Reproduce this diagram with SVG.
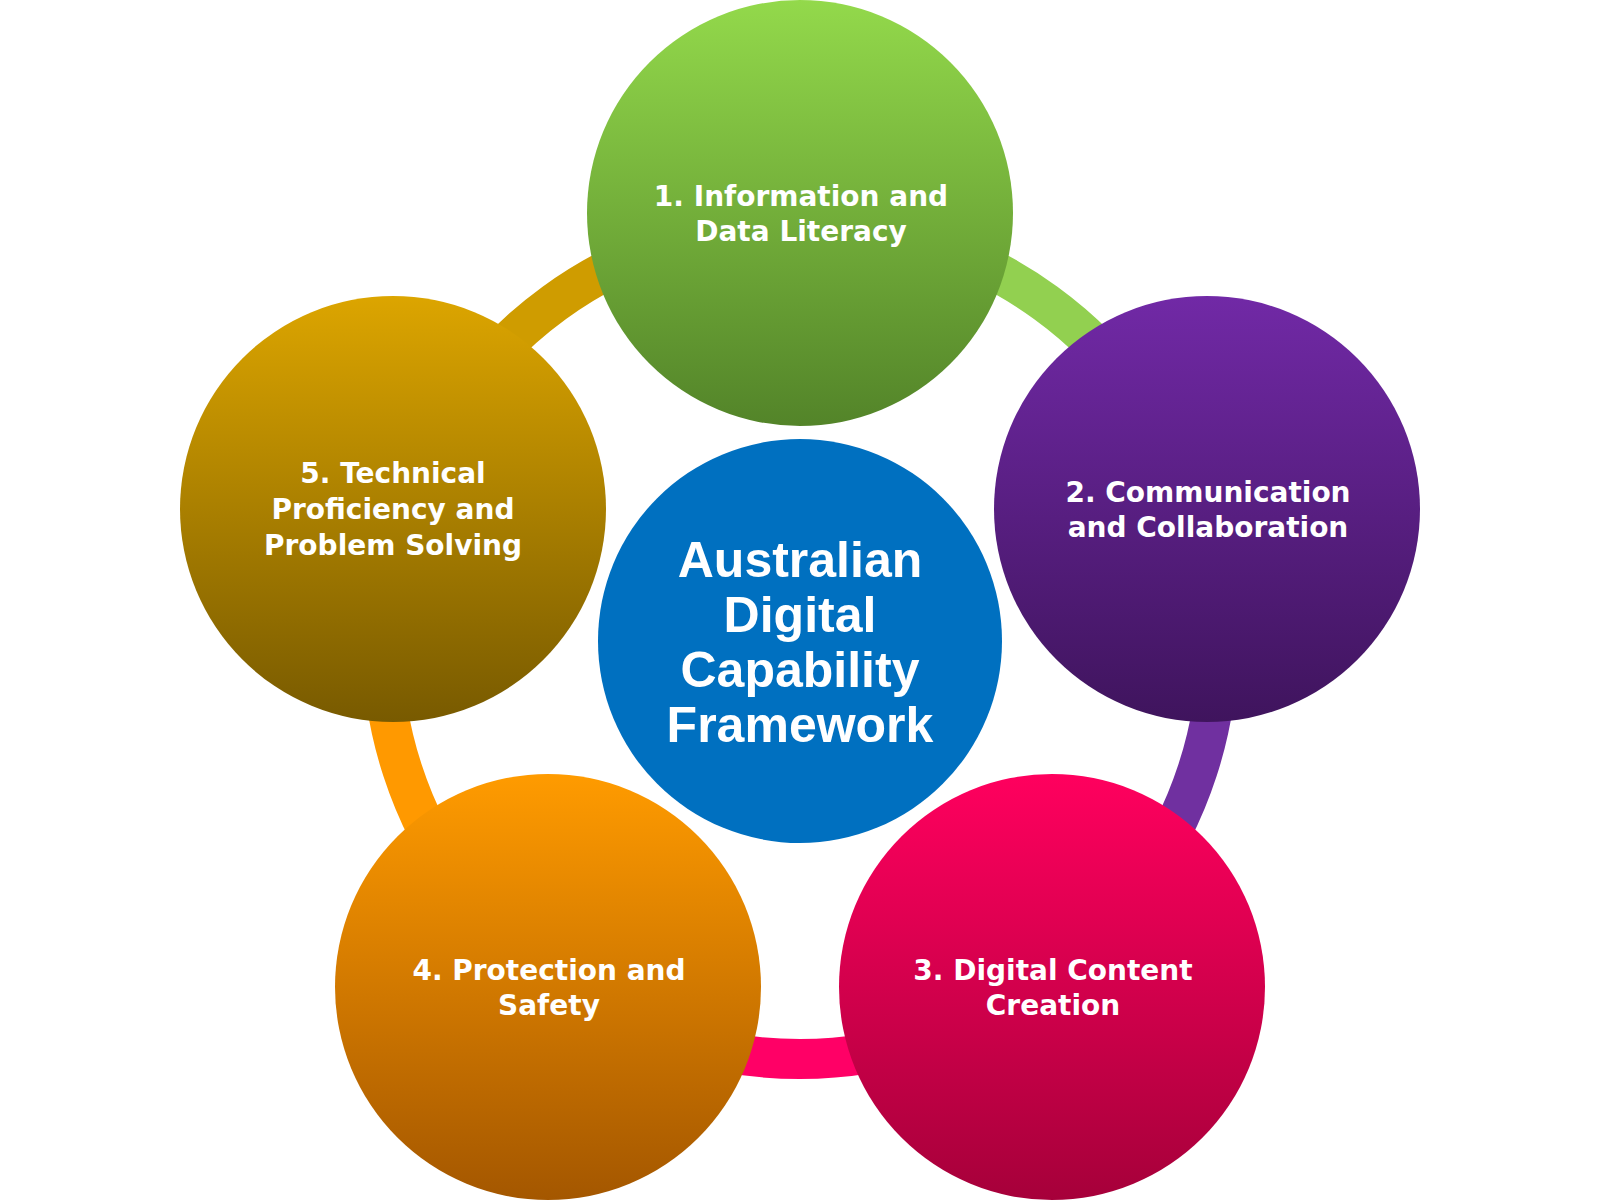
<svg xmlns="http://www.w3.org/2000/svg" width="1600" height="1201" viewBox="0 0 1600 1201">
  <defs>
    <linearGradient id="g1" x1="0" y1="0" x2="0" y2="1">
      <stop offset="0" stop-color="#93d94b"/>
      <stop offset="1" stop-color="#538429"/>
    </linearGradient>
    <linearGradient id="g2" x1="0" y1="0" x2="0" y2="1">
      <stop offset="0" stop-color="#7129a6"/>
      <stop offset="1" stop-color="#3f145d"/>
    </linearGradient>
    <linearGradient id="g3" x1="0" y1="0" x2="0" y2="1">
      <stop offset="0" stop-color="#ff005e"/>
      <stop offset="1" stop-color="#a6003a"/>
    </linearGradient>
    <linearGradient id="g4" x1="0" y1="0" x2="0" y2="1">
      <stop offset="0" stop-color="#ff9b00"/>
      <stop offset="1" stop-color="#a45700"/>
    </linearGradient>
    <linearGradient id="g5" x1="0" y1="0" x2="0" y2="1">
      <stop offset="0" stop-color="#dca500"/>
      <stop offset="1" stop-color="#785a00"/>
    </linearGradient>
  </defs>
  <style>
    .ring { fill: none; stroke-width: 40; }
    .lbl { font-family: "DejaVu Sans", "Liberation Sans", sans-serif; font-weight: bold; font-size: 28px; fill: #ffffff; text-anchor: middle; }
    .ctr { font-family: "Liberation Sans", "DejaVu Sans", sans-serif; font-weight: bold; font-size: 50px; fill: #ffffff; text-anchor: middle; }
  </style>
  <rect width="1600" height="1201" fill="#ffffff"/>
  <g id="connectors">
    <path class="ring" stroke="#92d050" d="M 800 223 A 418 418 0 0 1 1197.5 511.8"/>
    <path class="ring" stroke="#7030a0" d="M 1197.5 511.8 A 418 418 0 0 1 1045.7 979.2"/>
    <path class="ring" stroke="#ff0066" d="M 1045.7 979.2 A 418 418 0 0 1 554.3 979.2"/>
    <path class="ring" stroke="#ff9900" d="M 554.3 979.2 A 418 418 0 0 1 402.5 511.8"/>
    <path class="ring" stroke="#cf9c00" d="M 402.5 511.8 A 418 418 0 0 1 800 223"/>
  </g>
  <g id="center">
    <circle cx="800" cy="641" r="202" fill="#0070c0"/>
    <text class="ctr" x="800" y="577">Australian</text>
    <text class="ctr" x="800" y="632">Digital</text>
    <text class="ctr" x="800" y="687">Capability</text>
    <text class="ctr" x="800" y="742">Framework</text>
  </g>
  <g id="node1">
    <circle cx="800" cy="213" r="213" fill="url(#g1)"/>
    <text class="lbl" x="801" y="206">1. Information and</text>
    <text class="lbl" x="801" y="241">Data Literacy</text>
  </g>
  <g id="node2">
    <circle cx="1207" cy="509" r="213" fill="url(#g2)"/>
    <text class="lbl" x="1208" y="502">2. Communication</text>
    <text class="lbl" x="1208" y="537">and Collaboration</text>
  </g>
  <g id="node3">
    <circle cx="1052" cy="987" r="213" fill="url(#g3)"/>
    <text class="lbl" x="1053" y="980">3. Digital Content</text>
    <text class="lbl" x="1053" y="1015">Creation</text>
  </g>
  <g id="node4">
    <circle cx="548" cy="987" r="213" fill="url(#g4)"/>
    <text class="lbl" x="549" y="980">4. Protection and</text>
    <text class="lbl" x="549" y="1015">Safety</text>
  </g>
  <g id="node5">
    <circle cx="393" cy="509" r="213" fill="url(#g5)"/>
    <text class="lbl" x="393" y="483">5. Technical</text>
    <text class="lbl" x="393" y="519">Proficiency and</text>
    <text class="lbl" x="393" y="555">Problem Solving</text>
  </g>
</svg>
